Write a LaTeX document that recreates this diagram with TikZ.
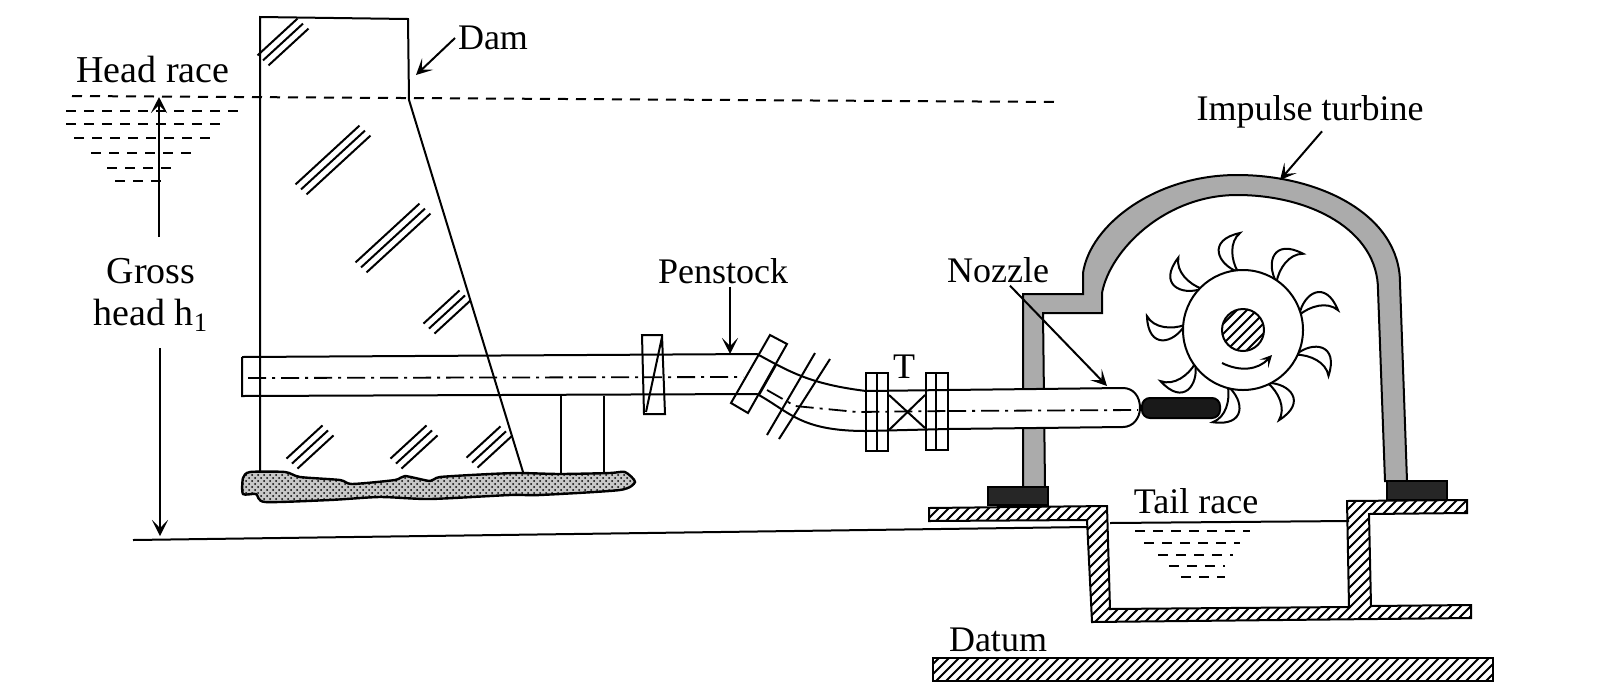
\documentclass[tikz,border=0pt]{standalone}
\usepackage{fontspec}
\setmainfont{Liberation Serif}
\usetikzlibrary{arrows.meta, positioning, calc, patterns}
\pgfdeclarepatternformonly{hatchband}{\pgfqpoint{-1pt}{-1pt}}{\pgfqpoint{6pt}{6pt}}{\pgfqpoint{5pt}{5pt}}{
    \pgfsetlinewidth{1pt}
    \pgfpathmoveto{\pgfqpoint{-0.1pt}{-0.1pt}}
    \pgfpathlineto{\pgfqpoint{5.1pt}{5.1pt}}
    \pgfusepath{stroke}}

\begin{document}
\begin{tikzpicture}[x=0.5pt, y=-0.5pt, line width=1pt,
    every node/.style={inner sep=1pt, font=\fontsize{18pt}{20pt}\selectfont},
    widelabel/.style={font=\fontsize{19pt}{21pt}\selectfont},
    ptr/.style={-{Stealth[length=8pt, width=8pt, inset=4pt]}},
    water/.style={dash pattern=on 5pt off 4pt},
    axisline/.style={dash pattern=on 9pt off 3pt on 1.5pt off 3pt, line width=0.9pt},
    hatched/.style={draw, pattern=hatchband},
    casing/.style={draw, fill=black!33},
    footing/.style={draw, fill=black!85},
    bucket/.style={draw, fill=white}]
    \useasboundingbox (0,0) rectangle (1600,697);

    % dam
    \draw (260,480) -- (260,17) -- (408,19) -- (409,100) -- (523,472);
    \foreach \hx/\hy/\hl in {283/42/20, 333/160/32, 393/238/32, 447/312/18, 310/447/18, 414/447/18, 489/447/17}
        \foreach \k in {-1,0,1}
            \draw ({\hx+\k*5.5-\hl},{\hy+\k*5+0.92*\hl}) -- ({\hx+\k*5.5+\hl},{\hy+\k*5-0.92*\hl});
    \draw[line width=1.2pt, preaction={fill=black!22}, pattern=crosshatch dots] plot[smooth cycle, tension=0.4] coordinates {(243,478) (250,472) (285,472) (300,477) (340,480)
        (352,484) (395,480) (405,476) (430,481) (440,477) (490,474) (520,473) (560,474) (610,473) (625,472) (635,482)
        (620,490) (540,495) (510,495) (430,499) (380,497) (330,500) (265,502) (256,494) (243,494)};
    \draw (561,396) -- (561,473) (604,396) -- (604,473);

    % head race
    \draw[water] (72,96) -- (1061,102);
    \foreach \wy/\wa/\wb in {111/66/240, 124/66/222, 138/74/213, 153/91/197, 168/107/175, 181/115/165}
        \draw[water] (\wa,\wy) -- (\wb,\wy);
    \node[widelabel] (headrace) at (153,69) {Head race};
    \node (dam) at (493,38) {Dam};
    \coordinate (damtip) at (416,75);
    \draw[ptr] (dam.west) -- (damtip);

    % gross head
    \node[widelabel] (gross) at (151,271) {Gross};
    \node[widelabel] (headh) at (151,315) {head h\textsubscript{1}};
    \coordinate (headlevel) at (159,97);
    \coordinate (groundlevel) at (160,536);
    \draw[ptr, shorten <=9pt] (gross.north -| headlevel) -- (headlevel);
    \draw[ptr, shorten <=7pt] (headh.south -| groundlevel) -- (groundlevel);
    \draw (133,540) -- (1087,527);
    \draw (1110,523) -- (1349,521);

    % casing
    \draw[casing] (1023,487) -- (1023,294) -- (1083,294) -- (1083,273)
        .. controls (1090,225) and (1155,175) .. (1237,175)
        .. controls (1320,175) and (1400,215) .. (1400,283) -- (1407,481) -- (1385,481) -- (1378,290)
        .. controls (1378,230) and (1310,195) .. (1237,195)
        .. controls (1165,195) and (1110,250) .. (1102,293) -- (1102,313) -- (1043,313) -- (1045,487) -- cycle;
    \draw[footing] (988,487) rectangle (1048,505);
    \draw[footing] (1387,481) rectangle (1447,500);
    \draw[hatched] (929,508) -- (1107,506) -- (1110,609) -- (1349,607) -- (1347,501) -- (1467,500) -- (1467,513)
        -- (1369,514) -- (1371,606) -- (1471,605) -- (1471,618) -- (1092,622) -- (1087,520) -- (929,521) -- cycle;
    \draw[hatched] (933,658) rectangle (1493,681);

    % tail race
    \foreach \wy/\wa/\wb in {531/1135/1250, 543/1144/1240, 555/1158/1233, 566/1169/1225, 577/1181/1225}
        \draw[water] (\wa,\wy) -- (\wb,\wy);
    \node (tailrace) at (1196,501) {Tail race};
    \node (datum) at (998,640) {Datum};

    % penstock
    \draw (242,357) -- (757,354) .. controls (790,372) and (810,384) .. (866,391);
    \draw (242,357) -- (242,396) -- (757,394) .. controls (790,412) and (800,431) .. (866,431);
    \draw (642,335) -- (662,335) -- (665,414) -- (644,414) -- cycle (662,337) -- (646,412);
    \draw (770,335) -- (787,344) -- (748,413) -- (731,403) -- cycle (776,365) -- (759,395);
    \draw (815,353) -- (767,435) (830,359) -- (779,439);
    \draw[axisline] (248,378) -- (743,377) (767,390) -- (795,406) -- (857,412) -- (948,411);
    \draw[fill=white] (948,390) -- (1123,388) .. controls (1133,388) and (1140,396) .. (1140,408)
        .. controls (1140,418) and (1133,427) .. (1123,427) -- (948,429);
    \draw[axisline] (948,411) -- (1138,410);
    \draw (866,391) -- (948,390) (866,431) -- (948,429);
    \draw (866,373) rectangle (888,451) (877,373) -- (877,451);
    \draw (926,373) rectangle (948,450) (936,373) -- (936,450);
    \draw (889,395) -- (925,428) (889,430) -- (925,395);
    \node (valve) at (904,367) {T};
    \node (penstock) at (723,271) {Penstock};
    \coordinate (penstocktip) at (730,354);
    \draw[ptr] ([xshift=3.5pt]penstock.south) -- (penstocktip);
    \node (nozzle) at (998,270) {Nozzle};
    \coordinate (nozzletip) at (1107,386);
    \draw[ptr] ([xshift=6pt]nozzle.south) -- (nozzletip);
    \draw[fill=black!90, rounded corners=4pt] (1142,398) rectangle (1220,418);

    % runner
    \foreach \a in {0,-40,...,-320} {
        \begin{scope}[shift={(1243,330)}, rotate=\a]
            \draw[bucket] (-5,-58) .. controls (-26,-66) and (-36,-90) .. (-3,-97)
                .. controls (-14,-88) and (-12,-70) .. (-5,-58) -- cycle;
        \end{scope}
    }
    \node[circle, draw, fill=white, minimum size=60pt] (wheel) at (1243,330) {};
    \node[circle, draw, minimum size=21pt, pattern=hatchband] (hub) at (wheel) {};
    \coordinate (spinstart) at (1222,363);
    \coordinate (spinend) at (1272,355);
    \draw[-{Stealth[length=6pt, width=6pt, inset=3pt]}] (spinstart) .. controls (1240,372) and (1258,370) .. (spinend);

    % turbine label
    \node (turbine) at (1310,112) {Impulse turbine};
    \coordinate (turbinetip) at (1280,180);
    \draw[ptr] ([xshift=6pt]turbine.south) -- (turbinetip);
\end{tikzpicture}
\end{document}
